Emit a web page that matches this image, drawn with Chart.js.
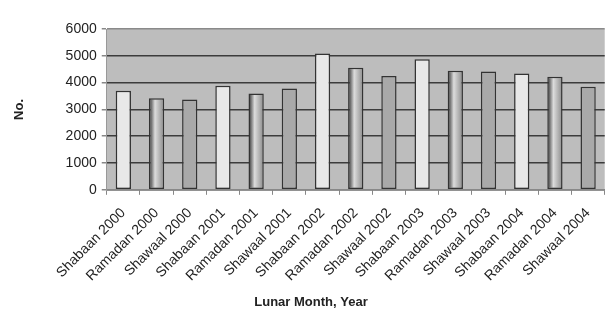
<!DOCTYPE html>
<html>
<head>
<meta charset="utf-8">
<script src="https://cdn.jsdelivr.net/npm/chart.js@4/dist/chart.umd.min.js"></script>
<style>
  html, body { margin: 0; padding: 0; background: #fff; overflow: hidden; }
</style>
</head>
<body>
<canvas id="chart" width="610" height="316"></canvas>
<script>
var months = ['Shabaan', 'Ramadan', 'Shawaal'];
var labels = [
    'Shabaan 2000', 'Ramadan 2000', 'Shawaal 2000',
    'Shabaan 2001', 'Ramadan 2001', 'Shawaal 2001',
    'Shabaan 2002', 'Ramadan 2002', 'Shawaal 2002',
    'Shabaan 2003', 'Ramadan 2003', 'Shawaal 2003',
    'Shabaan 2004', 'Ramadan 2004', 'Shawaal 2004'
];
var counts = [3700, 3420, 3370, 3880, 3590, 3780, 5090, 4550, 4250, 4875, 4440, 4410, 4340, 4215, 3850];
var yTicks = [0, 1000, 2000, 3000, 4000, 5000, 6000];

var fontName = "'Liberation Sans', Arial, sans-serif";

// month of each bar decides its fill
function monthOf(i) {
    return months[i % 3];
}

function fillFor(i) {
    var m = monthOf(i);
    if (m === 'Shabaan') return '#e8e8e8';
    if (m === 'Shawaal') return '#a9a9a9';
    return '#b8b8b8';
}

// grey plot background + gradient on Ramadan bars
var plotBg = {
    id: 'plotBg',
    beforeDraw: function (chart) {
        var a = chart.chartArea;
        var c = chart.ctx;
        c.save();
        c.fillStyle = '#bdbdbd';
        c.fillRect(a.left, a.top, a.right - a.left, a.bottom - a.top);
        c.restore();
    },
    beforeDatasetsDraw: function (chart) {
        var meta = chart.getDatasetMeta(0);
        var c = chart.ctx;
        meta.data.forEach(function (bar, i) {
            if (monthOf(i) !== 'Ramadan') return;
            var x0 = bar.x - bar.width / 2;
            var g = c.createLinearGradient(x0, 0, x0 + bar.width, 0);
            g.addColorStop(0, '#2a2a2a');
            g.addColorStop(0.4, '#dcdcdc');
            g.addColorStop(1, '#8a8a8a');
            bar.options.backgroundColor = g;
        });
    }
};

var ctx = document.getElementById('chart').getContext('2d');
var chart = new Chart(ctx, {
    type: 'bar',
    data: {
        labels: labels,
        datasets: [{
            data: counts,
            backgroundColor: counts.map(function (v, i) { return fillFor(i); }),
            borderColor: '#333',
            borderWidth: 1.5,
            borderSkipped: false,
            categoryPercentage: 1,
            barPercentage: 0.46
        }]
    },
    options: {
        responsive: false,
        animation: false,
        layout: { padding: { left: 12, right: 0, top: 29, bottom: 6 } },
        plugins: {
            legend: { display: false },
            tooltip: { enabled: false },
            title: {
                display: true,
                position: 'bottom',
                text: 'Lunar Month, Year',
                color: '#222',
                font: { family: fontName, size: 13, weight: 'bold' },
                padding: { top: 0, bottom: 0 }
            }
        },
        scales: {
            x: {
                offset: true,
                grid: {
                    offset: true,
                    drawOnChartArea: false,
                    tickLength: 5,
                    tickColor: '#888',
                    color: '#888'
                },
                border: { color: '#888', width: 1.5 },
                ticks: {
                    minRotation: 45,
                    maxRotation: 45,
                    padding: 10,
                    color: '#222',
                    font: { family: fontName, size: 14 }
                }
            },
            y: {
                min: 0,
                max: 6000,
                afterBuildTicks: function (axis) {
                    axis.ticks = yTicks.map(function (v) { return { value: v }; });
                },
                grid: {
                    color: function (c) {
                        return c.tick && c.tick.value === 6000 ? '#8a8a8a' : '#3c3c3c';
                    },
                    lineWidth: 1.5,
                    tickLength: 5,
                    tickColor: '#888'
                },
                border: { color: '#999', width: 1 },
                ticks: {
                    padding: 5,
                    color: '#222',
                    font: { family: fontName, size: 14 },
                    callback: function (v) { return String(v); }
                },
                title: {
                    display: true,
                    text: 'No.',
                    color: '#222',
                    font: { family: fontName, size: 13, weight: 'bold' },
                    padding: { top: 0, bottom: 33 }
                }
            }
        }
    },
    plugins: [plotBg]
});
</script>
</body>
</html>
